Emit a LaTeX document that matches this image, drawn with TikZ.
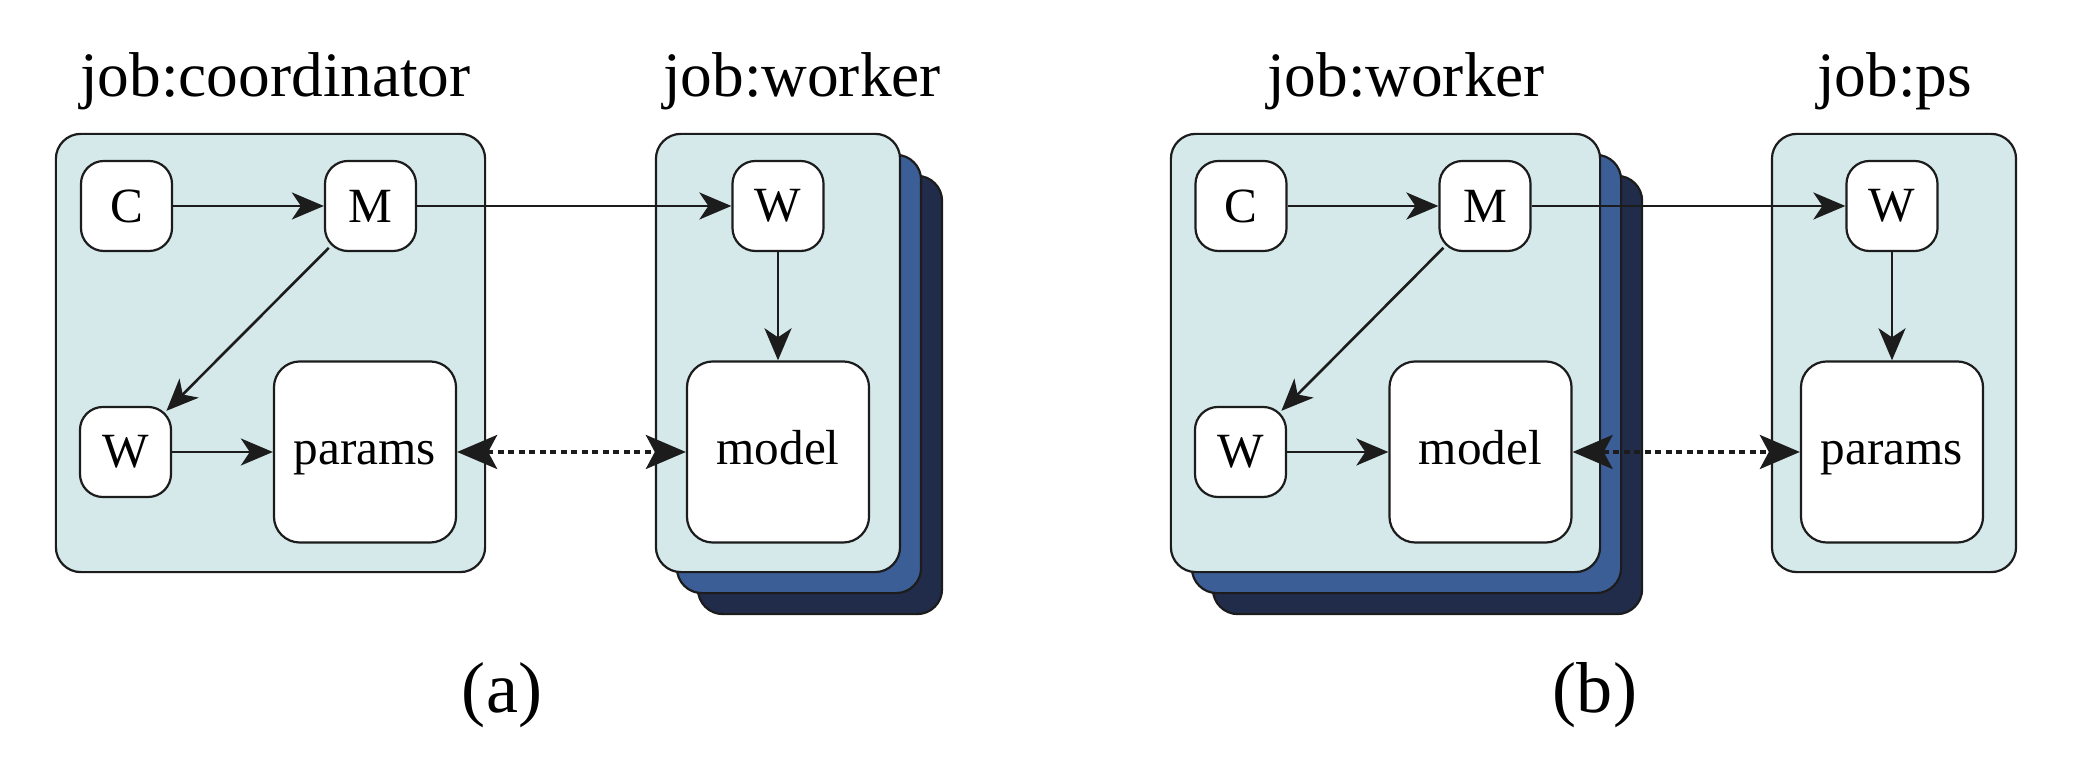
\documentclass[tikz,border=0pt]{standalone}
\usepackage{fontspec}
\setmainfont{Liberation Serif}
\usetikzlibrary{arrows.meta}
\definecolor{boxfill}{RGB}{213,233,235}
\definecolor{layerA}{RGB}{59,94,150}
\definecolor{layerB}{RGB}{32,44,74}
\definecolor{edgecol}{RGB}{28,28,28}
\tikzset{
  outerbox/.style={draw=edgecol, line width=0.022cm, fill=boxfill, rounded corners=0.25cm, inner sep=0pt},
  layermid/.style={outerbox, fill=layerA},
  layerback/.style={outerbox, fill=layerB},
  smallbox/.style={draw=edgecol, line width=0.022cm, fill=white, rounded corners=0.23cm,
    minimum width=0.91cm, minimum height=0.90cm, inner sep=0pt, font=\fontsize{14}{16}\selectfont},
  bigbox/.style={draw=edgecol, line width=0.022cm, fill=white, rounded corners=0.26cm,
    minimum width=1.82cm, minimum height=1.81cm, inner sep=0pt, text height=10pt, text depth=3pt,
    font=\fontsize{14}{16}\selectfont},
  jobtitle/.style={font=\fontsize{18}{20}\selectfont, anchor=base, inner sep=0pt},
  sublabel/.style={font=\fontsize{20.5}{24}\selectfont, anchor=base, inner sep=0pt},
  flow/.style={draw=edgecol, line width=0.026cm, -{Stealth[length=0.32cm, width=0.27cm, inset=0.09cm]}},
  sync/.style={draw=edgecol, line width=0.036cm, dash pattern=on 0.06cm off 0.045cm,
    {Stealth[length=0.40cm, width=0.34cm, inset=0.09cm]}-{Stealth[length=0.40cm, width=0.34cm, inset=0.09cm]}},
  diag/.style={flow, shorten <=-0.06cm, shorten >=-0.07cm},
}
\begin{document}
\begin{tikzpicture}[x=0.01cm, y=-0.01cm]
\useasboundingbox (0,0) rectangle (2078,768);

% ---------------- (a) ----------------
\node[outerbox, minimum width=4.29cm, minimum height=4.38cm] (coordA) at (270.5,353) {};
\node[jobtitle] (tcoordA) at (275.5,97) {job:coordinator};

\node[layerback, minimum width=2.44cm, minimum height=4.38cm] (wkA3) at (820,395) {};
\node[layermid, minimum width=2.44cm, minimum height=4.38cm] (wkA2) at (799,374) {};
\node[outerbox, minimum width=2.44cm, minimum height=4.38cm] (wkA1) at (778,353) {};
\node[jobtitle] (tworkerA) at (802,97) {job:worker};

\node[smallbox] (cA) at (126.5,206) {C};
\node[smallbox] (mA) at (370.5,206) {M};
\node[smallbox] (wA) at (125.5,452) {W};
\node[bigbox] (paramsA) at (365,452) {params};

\node[smallbox] (wwA) at (778,206) {W};
\node[bigbox] (modelA) at (778,452) {model};

\draw[flow] (cA) -- (mA);
\draw[diag] (mA) -- (wA);
\draw[flow] (wA) -- (paramsA);
\draw[flow] (mA) -- (wwA);
\draw[flow] (wwA) -- (modelA);
\draw[sync] (paramsA) -- (modelA);

\node[sublabel] (labA) at (502,713) {(a)};

% ---------------- (b) ----------------
\node[layerback, minimum width=4.29cm, minimum height=4.38cm] (wkB3) at (1427.5,395) {};
\node[layermid, minimum width=4.29cm, minimum height=4.38cm] (wkB2) at (1406.5,374) {};
\node[outerbox, minimum width=4.29cm, minimum height=4.38cm] (wkB1) at (1385.5,353) {};
\node[jobtitle] (tworkerB) at (1406,97) {job:worker};

\node[outerbox, minimum width=2.44cm, minimum height=4.38cm] (psB) at (1894,353) {};
\node[jobtitle] (tpsB) at (1894.5,97) {job:ps};

\node[smallbox] (cB) at (1241,206) {C};
\node[smallbox] (mB) at (1485,206) {M};
\node[smallbox] (wB) at (1240.5,452) {W};
\node[bigbox] (modelB) at (1480.5,452) {model};

\node[smallbox] (wwB) at (1892,206) {W};
\node[bigbox] (paramsB) at (1892,452) {params};

\draw[flow] (cB) -- (mB);
\draw[diag] (mB) -- (wB);
\draw[flow] (wB) -- (modelB);
\draw[flow] (mB) -- (wwB);
\draw[flow] (wwB) -- (paramsB);
\draw[sync] (modelB) -- (paramsB);

\node[sublabel] (labB) at (1595,713) {(b)};
\end{tikzpicture}
\end{document}
